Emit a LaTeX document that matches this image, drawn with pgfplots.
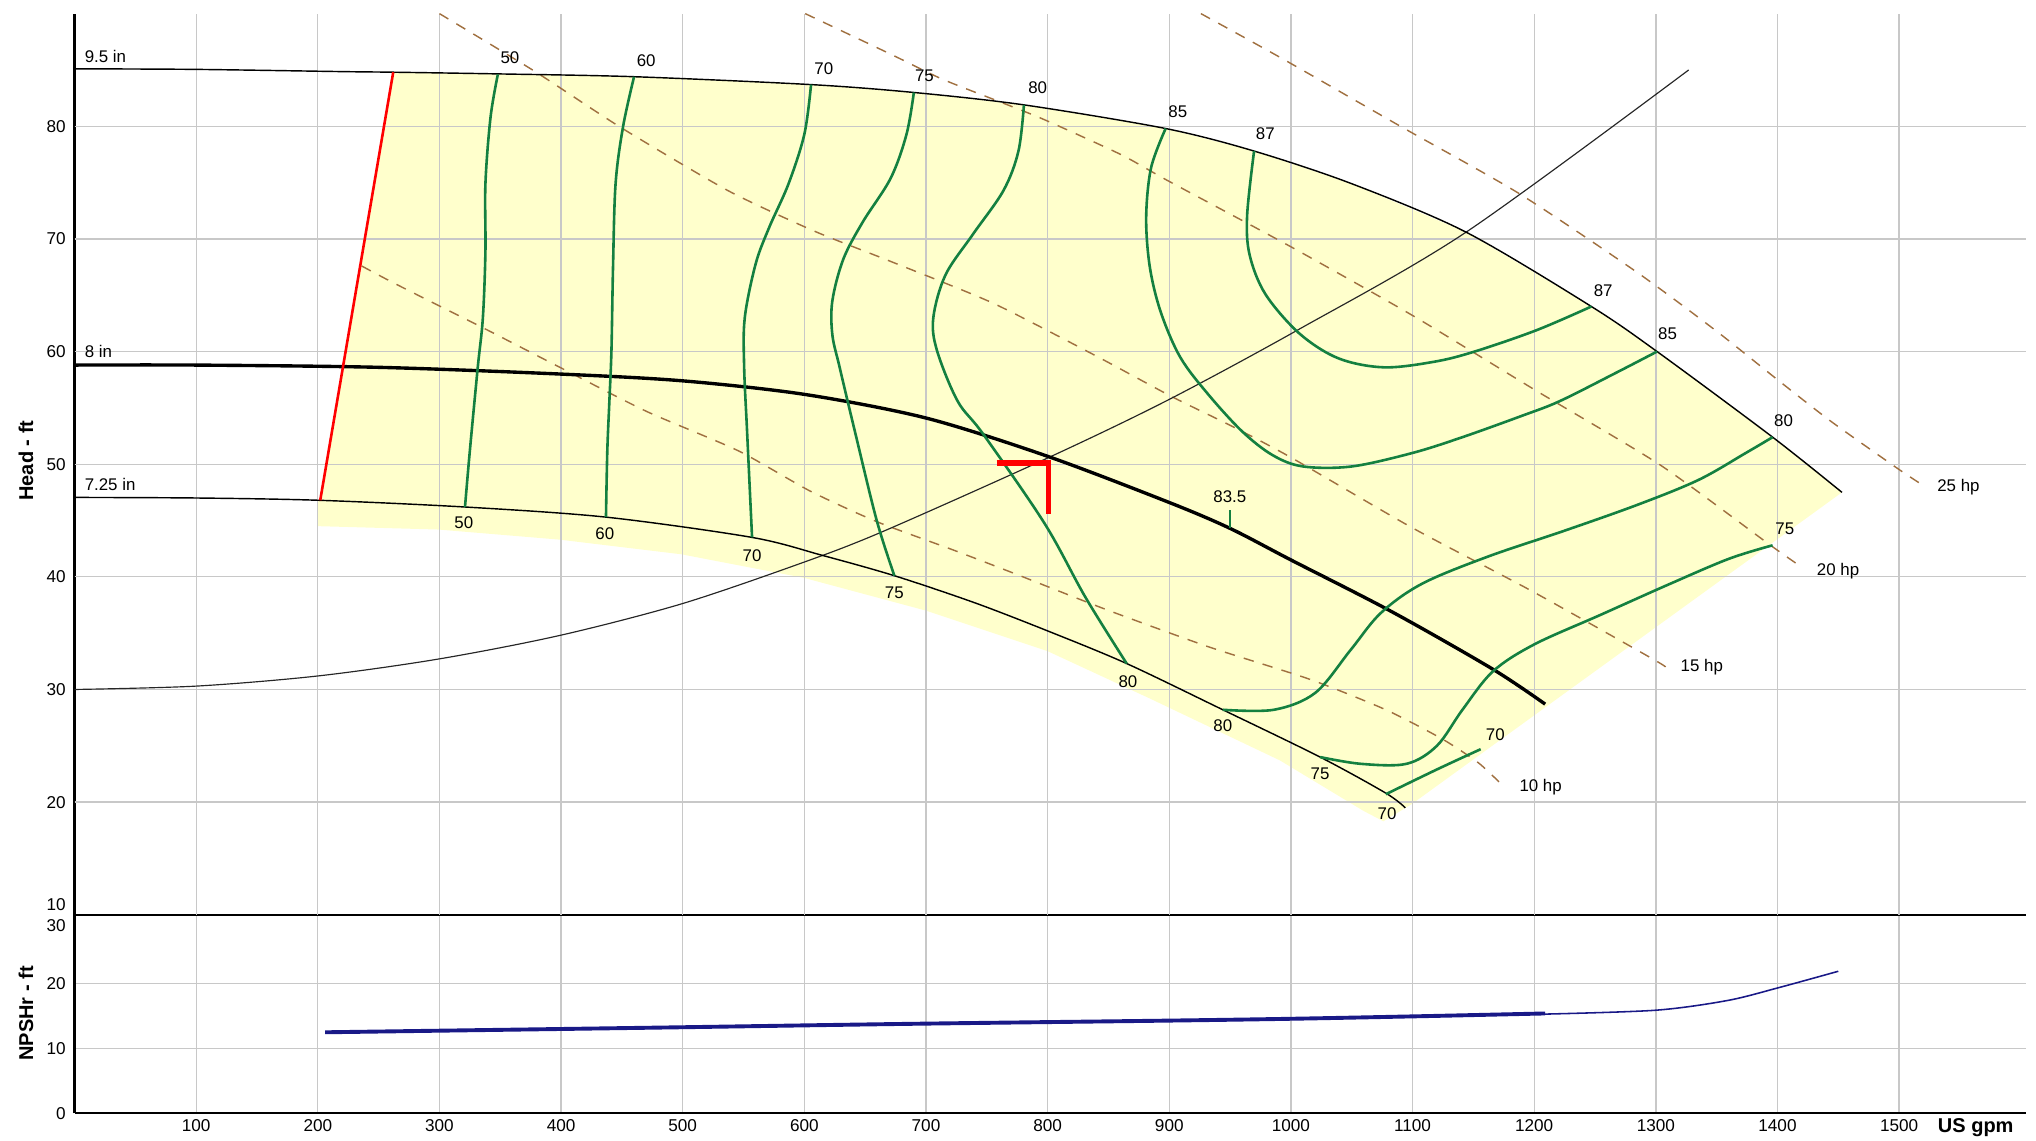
\documentclass[border=0pt]{standalone}
\usepackage{fontspec}
\setmainfont{Liberation Sans}
\usepackage{pgfplots}
\pgfplotsset{compat=1.18}
\definecolor{effgreen}{RGB}{20,128,64}
\definecolor{fillyellow}{RGB}{255,255,204}
\definecolor{hpbrown}{RGB}{160,112,64}
\definecolor{gridgray}{RGB}{200,200,200}
\definecolor{npshblue}{RGB}{25,25,135}
\newcommand\lbl{\fontsize{6.5}{7}\selectfont}
\pgfplotsset{
  common/.style={
    scale only axis, width=751.3pt, xmin=0, xmax=1604,
    axis x line=bottom, axis y line=left,
    axis line style={-, black, line width=0.8pt},
    xtick={100,200,...,1500},
    grid=major, major grid style={gridgray, line width=0.5pt},
    major tick length=0pt,
    tick label style={font=\fontsize{6.6}{7}\selectfont},
    /pgf/number format/assume math mode=true,
    /pgf/number format/1000 sep={},
    yticklabel style={inner sep=0pt, xshift=-3.2pt},
    xticklabel style={inner sep=0pt, yshift=-2.2pt},
    clip=false,
  },
  eff/.style={effgreen, line width=1pt, smooth, tension=0.55},
  hp/.style={hpbrown, line width=0.55pt, dash pattern=on 4pt off 3.6pt, smooth, tension=0.4},
}
\begin{document}
\begin{tikzpicture}
% ---------------- NPSHr panel ----------------
\begin{axis}[common, at={(0,0)}, anchor=south west, height=76.5pt,
  ymin=0, ymax=30.6, ytick={0,10,20}, extra y ticks={30},
  extra y tick style={grid=none, yticklabel style={yshift=-2.5pt}}]
\addplot[npshblue, line width=1.5pt, smooth] coordinates {
 (206,12.5) (472,13.2) (686,13.8) (900,14.3) (1006,14.6) (1113,15.0) (1209,15.4)};
\addplot[npshblue, line width=0.6pt, smooth] coordinates {
 (1209,15.3) (1300,15.9) (1359,17.4) (1401.5,19.4) (1450,21.9)};
\node[rotate=90, font=\bfseries\fontsize{7.7}{8}\selectfont] at (rel axis cs:-0.0249,0.503) {NPSHr - ft};
\node[anchor=north, inner sep=0pt, yshift=-1.8pt, font=\bfseries\fontsize{7.7}{8}\selectfont] at (axis cs:1563,0) {US gpm};
\draw[black, line width=0.8pt] (axis cs:0,0) -- (axis cs:1604,0);
\end{axis}
% ---------------- Head panel ----------------
\begin{axis}[common, at={(0,76.5pt)}, anchor=south west, height=347pt,
  ymin=10, ymax=90, xticklabels={}, ytick={20,30,...,80},
  extra y ticks={10}, extra y tick style={grid=none, yticklabel style={yshift=4pt}},
  axis line style={-, black, line width=0.9pt}, axis on top=false]
% operating region
\addplot[fill=fillyellow, draw=none] coordinates {
 (202,46.8) (262,84.8) (348,84.65) (460,84.4) (605.5,83.7) (690,83.0) (780.5,81.9)
 (897,79.8) (969.7,77.8) (1050,74.9) (1144,70.6) (1247,64.0) (1301,60.0) (1396,52.4) (1453,47.5)
 (1099,19.8) (1076,18.3) (1060,19.2) (991,23.7) (884,29.2) (800,33.4) (700,37.0) (600,39.9)
 (499,42.0) (399,43.3) (299,44.2) (200,44.5) (200,46.8)} -- cycle;
% grid redrawn over the fill
\pgfplotsinvokeforeach{100,200,...,1500}{\draw[gridgray, line width=0.5pt] (axis cs:#1,10) -- (axis cs:#1,90);}
\pgfplotsinvokeforeach{20,30,...,80}{\draw[gridgray, line width=0.5pt] (axis cs:0,#1) -- (axis cs:1604,#1);}
% power lines
\addplot[hp] coordinates {(926,90) (993,86.0) (1090,80.0) (1188,74.0) (1285,67.0) (1350,61.8) (1400,57.5) (1444,53.8) (1499,49.6) (1520,48.1)};
\addplot[hp] coordinates {(600.7,90) (671,86.4) (713,84.2) (760,82.2) (797,80.6) (860,77.5) (900,75.1) (1000,69.3) (1100,63.2) (1202,56.5) (1304,49.9) (1393,42.9) (1418,41.0)};
\addplot[hp] coordinates {(300,90) (378,84.9) (449,79.9) (537,74.3) (608,70.7) (671,68.0) (755,64.3) (840,59.6) (902,56.0) (951,53.4) (1000,50.6) (1099,44.4) (1197,38.8) (1296,32.8) (1308,32.0)};
\addplot[hp] coordinates {(236,67.6) (264,66.0) (336,62.1) (399,58.6) (470,54.7) (545.5,51.2) (605,47.6) (659.5,44.9) (722,42.4) (772.6,40.3) (848,37.1) (932,33.8) (1015.6,30.9) (1078,28.2) (1124.5,25.6) (1154,23.5) (1171,21.8)};
% system curve
\addplot[black!85, line width=0.45pt, smooth] coordinates {
 (0,30) (100,30.3) (200,31.2) (299,32.7) (399,34.8) (499,37.6) (597,41.2) (664,44.0)
 (801,50.6) (899,55.7) (1007,62) (1144,70.6) (1327,85)};
% impeller curves
\addplot[black, line width=0.55pt, smooth] coordinates {
 (0,85.1) (100,85.05) (222,84.85) (262,84.8) (348,84.65) (460,84.4) (605.5,83.7) (690,83.0)
 (780.5,81.9) (897,79.8) (969.7,77.8) (1050,74.9) (1144,70.6) (1247,64.0) (1301,60.0) (1396,52.4) (1453,47.5)};
\addplot[black, line width=1.3pt, smooth] coordinates {
 (0,58.8) (100,58.8) (250,58.6) (400,58.0) (500,57.4) (600,56.2) (700,54.1) (800,50.7)
 (900,46.6) (950,44.3) (1000,41.5) (1083,36.9) (1166,31.8) (1209,28.7)};
\addplot[black, line width=0.55pt, smooth] coordinates {
 (0,47.05) (100,47.0) (200,46.8) (321,46.2) (437,45.3) (557,43.5) (615,41.9) (674,40.1)
 (740,37.7) (800,35.2) (865,32.3) (944,28.2) (1024,24.0) (1078,20.8) (1094,19.5)};
% efficiency contours
\addplot[eff] coordinates {(348,84.6) (342,80.8) (337.8,74.9) (337.8,68.9) (335.7,63) (331.5,58.6) (325,51.2) (321,46.2)};
\addplot[eff] coordinates {(460,84.4) (451,80) (444.8,74.9) (442.7,67.5) (441.4,60.1) (439.7,55.6) (438,51.2) (436.9,45.3)};
\addplot[eff] coordinates {(605.5,83.7) (600,79.3) (587,74.9) (571,71.0) (560,67.8) (551,63.0) (550.5,58.6) (553,52.7) (557,43.5)};
\addplot[eff] coordinates {(690,83.0) (684,79.3) (671,75.4) (648,71.5) (632,68.2) (623,64.5) (623,61.5) (629,58.6) (642,52.7) (659.5,45.0) (674,40.1)};
\addplot[eff] coordinates {(780.5,81.9) (776,77.8) (763.7,74.3) (738.5,70.4) (716,66.8) (706,63.0) (709,60.1) (726,55.6) (747.5,52.6) (797.7,44.7) (831,38.2) (865,32.3)};
\addplot[eff] coordinates {(897,79.8) (885,76.3) (881,71.9) (884,67.5) (893,63.5) (909,59.5) (932,56.2) (960,52.9) (985,50.8) (1010,49.8) (1050,49.8) (1100,51.0) (1141,52.4) (1190,54.3) (1221,55.6) (1267,58.1) (1301,60.0)};
\addplot[eff] coordinates {(969.7,77.8) (964,72.1) (966,68.6) (979,65.1) (1007,61.6) (1039,59.4) (1076.5,58.6) (1118,59.1) (1151,60.0) (1202,61.9) (1247,64.0)};
\addplot[eff] coordinates {(944,28.2) (986,28.2) (1020,29.7) (1049,33.5) (1074,36.8) (1108,39.4) (1162,41.8) (1225,44.1) (1285,46.4) (1335,48.6) (1374,51.0) (1396,52.4)};
\addplot[eff] coordinates {(1024,24.0) (1057.5,23.4) (1095,23.4) (1120,25.0) (1141,28.2) (1166,31.6) (1200,34.0) (1254,36.6) (1310,39.3) (1360,41.6) (1396,42.8)};
\addplot[eff] coordinates {(1078,20.7) (1120,22.9) (1156,24.7)};
\addplot[effgreen, line width=1pt] coordinates {(950,44.3) (950,45.9)};
% min flow and operating point
\addplot[red, line width=1pt] coordinates {(202,46.8) (262,84.8)};
\addplot[red, line width=2pt, line join=miter] coordinates {(758,50.1) (801,50.1) (801,45.6)};
% labels
\node[font=\lbl, inner sep=0pt, anchor=south west] at (axis cs:8,85.6) {9.5 in};
\node[font=\lbl, inner sep=0pt, anchor=south west] at (axis cs:8,59.4) {8 in};
\node[font=\lbl, inner sep=0pt, anchor=south west] at (axis cs:8,47.6) {7.25 in};
\node[font=\lbl, inner sep=0pt] at (axis cs:358,86.1) {50};
\node[font=\lbl, inner sep=0pt] at (axis cs:470,85.8) {60};
\node[font=\lbl, inner sep=0pt] at (axis cs:616,85.1) {70};
\node[font=\lbl, inner sep=0pt] at (axis cs:698.7,84.5) {75};
\node[font=\lbl, inner sep=0pt] at (axis cs:791.8,83.4) {80};
\node[font=\lbl, inner sep=0pt] at (axis cs:907,81.3) {85};
\node[font=\lbl, inner sep=0pt] at (axis cs:979,79.3) {87};
\node[font=\lbl, inner sep=0pt] at (axis cs:1256.7,65.4) {87};
\node[font=\lbl, inner sep=0pt] at (axis cs:1309.6,61.6) {85};
\node[font=\lbl, inner sep=0pt] at (axis cs:1405,53.9) {80};
\node[font=\lbl, inner sep=0pt] at (axis cs:1406,44.3) {75};
\node[font=\lbl, inner sep=0pt] at (axis cs:1168,26.0) {70};
\node[font=\lbl, inner sep=0pt] at (axis cs:320,44.8) {50};
\node[font=\lbl, inner sep=0pt] at (axis cs:436,43.8) {60};
\node[font=\lbl, inner sep=0pt] at (axis cs:557,41.9) {70};
\node[font=\lbl, inner sep=0pt] at (axis cs:674,38.6) {75};
\node[font=\lbl, inner sep=0pt] at (axis cs:866,30.7) {80};
\node[font=\lbl, inner sep=0pt] at (axis cs:944,26.8) {80};
\node[font=\lbl, inner sep=0pt] at (axis cs:1024,22.5) {75};
\node[font=\lbl, inner sep=0pt] at (axis cs:1079,19.0) {70};
\node[font=\lbl, inner sep=0pt] at (axis cs:949.8,47.1) {83.5};
\node[font=\lbl, inner sep=0pt, anchor=west] at (axis cs:1531,48.0) {25 hp};
\node[font=\lbl, inner sep=0pt, anchor=west] at (axis cs:1432,40.5) {20 hp};
\node[font=\lbl, inner sep=0pt, anchor=west] at (axis cs:1320,32.0) {15 hp};
\node[font=\lbl, inner sep=0pt, anchor=west] at (axis cs:1187.5,21.3) {10 hp};
\node[rotate=90, font=\bfseries\fontsize{7.7}{8}\selectfont] at (rel axis cs:-0.0249,0.504) {Head - ft};
\end{axis}
\path (-28.7pt,-10.5pt) rectangle (755.3pt,428.75pt);
\end{tikzpicture}
\end{document}
